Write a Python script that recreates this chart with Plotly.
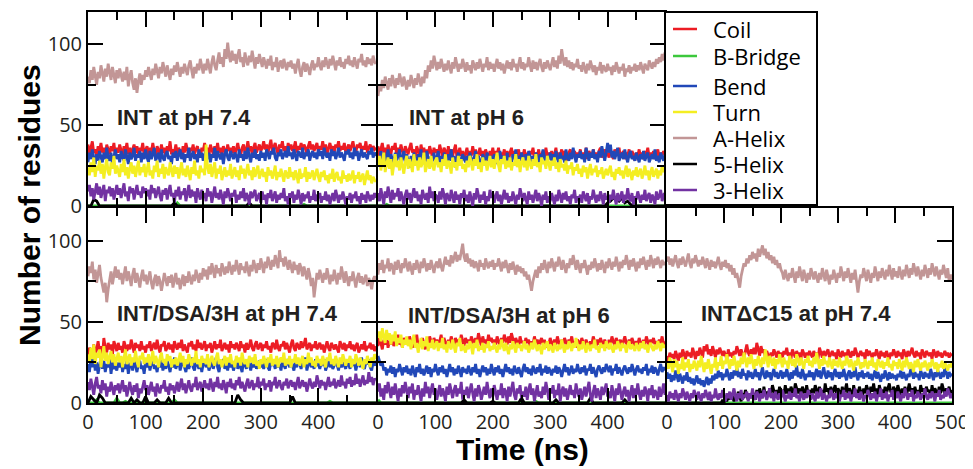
import plotly.graph_objects as go

# ---------------- data ----------------
series_names = ["Coil", "B-Bridge", "Bend", "Turn", "A-Helix", "5-Helix", "3-Helix"]
series_colors = ["#ec1c24", "#3cc83c", "#2148b8", "#f4ee22", "#c29696", "#000000", "#7232a2"]

panel_titles = ["INT at pH 7.4", "INT at pH 6", "INT/DSA/3H at pH 7.4",
                "INT/DSA/3H at pH 6", "INT\u0394C15 at pH 7.4"]

x_tick_vals = [0, 100, 200, 300, 400, 500]
x_tick_text_inner = ["0", "100", "200", "300", "400", ""]
x_tick_text_last = ["0", "100", "200", "300", "400", "500"]
y_tick_vals = [0, 50, 100]
y_tick_text = ["0", "50", "100"]
t_end = 500  # ns; every series is sampled evenly from 0 to t_end

# ---- Panel 1: INT at pH 7.4 ----
p1_coil = [38,32,36,40,33,35,31,37,34,39,33,36,30,38,35,32,37,34,39,31,36,
           33,38,35,31,37,34,39,32,36,30,35,38,33,37,31,36,34,39,32,35,
           37,31,36,33,39,34,30,37,35,32,38,33,36,31,37,34,40,32,35,33,
           38,32,36,34,31,37,33,39,35,31,36,34,38,32,35,37,33,30,36,34,
           39,33,36,31,38,35,32,37,34,39,33,36,31,37,35,32,38,34,36,33,
           37,32,35,39,34,31,36,38,33,35,40,34,37,32,36,39,33,35,38,34,
           36,40,35,38,33,37,41,34,36,39,35,32,38,36,40,34,37,33,39,35,
           38,34,36,40,33,37,35,39,34,38,36,32,37,40,35,38,34,36,39,33,
           37,35,40,34,38,32,36,39,35,37,33,38,36,40,34,37,35,39,33,36,
           38,34,37,40,35,33,38,36,39,34,37,35,40,33,36,38,34,37,35,36]
p1_bbridge = [0,0,0,0,0,0,0,0,0,0,0,0,0,0,0,0,0,0,0,0,0,
              0,0,0,0,0,0,0,0,0,0,2,0,0,0,0,0,0,0,0,0,
              0,0,0,0,0,0,0,0,0,0,0,0,0,0,0,0,0,0,0,0,
              0,0,0,0,0,0,0,0,0,0,0,0,0,0,1,0,0,0,0,0,
              0,0,0,0,0,0,0,0,0,0,0,0,0,0,0,0,0,0,0,0]
p1_bend = [27,33,29,35,30,26,32,28,34,31,27,33,29,36,30,28,33,26,31,35,29,
           32,27,34,30,28,35,31,26,33,29,31,36,28,32,30,34,27,33,29,35,
           30,27,34,29,32,36,28,31,33,27,35,30,28,32,34,29,31,26,33,30,
           34,28,31,35,29,33,27,32,30,36,28,31,34,29,32,27,35,30,33,28,
           31,35,29,33,27,32,30,36,28,34,31,29,33,26,32,35,30,28,34,31,
           29,33,31,27,35,30,32,28,34,29,36,31,27,33,30,35,29,32,28,34,
           30,33,28,35,31,29,34,32,36,30,28,33,31,35,29,32,34,30,37,31,
           33,29,35,31,28,34,32,30,36,29,33,31,35,28,32,34,30,33,29,35,
           31,34,29,36,32,30,33,28,35,31,34,29,32,36,30,33,31,28,34,32,
           35,30,33,29,36,31,34,28,32,35,30,33,31,29,34,32,36,30,33,31]
p1_turn = [24,19,27,21,30,18,25,22,28,20,26,17,24,29,21,19,27,23,31,20,25,
           22,18,26,21,29,19,24,17,23,27,20,25,18,22,28,19,24,21,26,18,
           23,27,19,22,17,25,21,28,18,23,20,26,17,24,21,19,27,22,18,25,
           20,24,17,22,27,19,23,18,25,21,16,24,20,28,19,22,17,25,21,23,
           19,38,24,20,26,18,22,27,17,23,20,25,16,21,24,18,22,19,26,17,
           21,24,18,22,16,25,20,23,17,21,26,19,22,16,24,18,21,25,17,20,
           23,18,21,15,24,19,22,17,20,25,16,21,18,23,19,15,22,20,17,24,
           18,21,16,22,19,14,23,17,20,18,24,15,21,17,19,22,16,20,23,18,
           15,21,18,22,16,19,14,20,17,23,15,19,21,16,18,14,22,17,19,15,
           20,16,18,22,14,19,17,21,15,18,20,13,17,22,16,19,14,18,16,15]
p1_ahelix = [80,76,84,78,86,81,75,83,79,87,82,77,85,80,88,83,78,86,81,76,84,
             79,85,81,77,83,78,86,74,80,84,76,72,79,70,77,82,75,81,78,84,
             80,86,82,78,85,81,88,83,79,86,82,89,84,80,87,83,78,85,81,87,
             83,89,84,80,86,82,88,85,81,87,90,84,79,86,82,88,84,91,85,82,
             88,84,91,86,82,89,93,87,84,90,95,88,92,86,97,91,101,93,89,96,
             90,94,88,93,97,89,92,86,95,90,87,93,89,96,91,85,92,88,94,90,
             86,92,88,85,91,87,93,84,89,86,92,83,88,90,85,91,87,84,89,86,
             90,85,88,82,87,91,84,80,86,89,83,88,85,81,87,90,84,88,86,92,
             87,84,90,86,92,88,85,91,87,93,89,84,90,87,92,86,89,85,91,88,
             93,87,90,86,92,88,85,91,89,94,87,90,86,92,88,91,87,93,89,88]
p1_h5 = [0,0,4,3,0,0,0,0,0,0,0,0,0,0,0,0,0,0,0,0,0,
         0,0,0,0,0,0,0,0,0,2,0,0,0,0,0,0,0,0,0,0,
         0,0,0,0,0,0,0,0,0,0,0,0,0,0,0,2,0,0,0,0,
         0,0,0,0,0,0,0,0,0,0,0,0,0,0,0,0,0,0,0,0,
         0,0,0,0,0,0,0,0,0,0,0,0,0,0,0,0,0,0,0,0]
p1_h3 = [9,13,6,11,4,10,14,7,12,5,9,13,3,10,8,12,6,11,4,9,13,
         7,11,5,10,14,6,9,3,12,8,11,4,10,13,7,9,5,12,8,11,
         6,10,4,13,8,11,5,9,12,6,3,10,7,11,4,9,13,6,8,2,
         10,6,12,4,9,7,11,3,8,13,5,10,6,9,2,11,7,4,10,6,
         8,3,11,6,9,2,7,12,5,8,4,10,6,1,9,5,11,7,3,8,
         6,10,2,7,4,9,5,11,3,8,6,1,9,5,7,10,3,6,8,2,
         9,4,7,1,8,5,10,3,6,9,2,7,4,8,5,11,3,6,1,8,
         5,9,2,7,4,10,6,1,8,3,7,5,9,2,6,4,10,3,7,5,
         8,2,6,4,9,3,7,1,5,8,3,10,6,2,7,4,9,5,1,6,
         4,8,2,7,5,9,3,6,1,8,4,7,2,9,5,3,7,4,8,5]

# ---- Panel 2: INT at pH 6 ----
p2_coil = [37,31,35,39,33,36,30,38,34,32,37,35,39,31,36,33,38,34,30,37,35,
           32,36,39,33,35,30,37,34,31,38,33,36,29,35,32,37,34,30,36,33,
           35,31,38,33,30,36,34,29,37,32,35,31,34,38,30,33,36,31,34,29,
           33,36,30,34,31,37,32,35,29,33,36,31,34,30,35,32,28,34,31,36,
           30,34,32,36,29,33,31,35,30,34,28,33,36,31,34,30,32,35,29,33,
           31,35,30,33,28,34,32,36,30,33,31,35,29,32,34,30,36,31,33,29,
           34,30,32,36,29,33,31,35,30,34,32,28,33,35,30,32,34,29,33,31,
           35,30,33,31,36,29,34,32,30,35,31,33,29,34,36,30,32,35,31,33,
           30,34,32,29,35,31,33,36,30,32,34,29,33,31,35,30,34,32,28,33,
           31,35,30,33,29,34,32,36,30,33,31,34,29,32,35,30,33,31,34,32]
p2_bbridge = [0,0,0,1,0,0,0,0,0,0,0,0,0,0,0,0,0,0,0,0,0,
              0,0,0,0,0,0,0,0,0,0,0,0,0,0,0,0,0,0,0,0,
              0,0,0,0,0,0,0,0,0,0,0,0,0,0,0,0,0,0,0,0,
              0,0,0,0,0,0,0,0,0,0,0,0,0,0,0,0,0,0,0,0,
              0,0,0,0,0,0,0,0,0,0,0,0,0,0,0,0,0,0,0,0]
p2_bend = [31,26,34,28,33,24,30,35,27,32,29,25,33,28,31,35,26,30,34,27,32,
           28,24,31,27,33,29,25,32,28,35,26,30,27,34,29,25,31,28,33,26,
           30,34,27,31,25,33,29,26,32,28,35,27,31,24,30,33,28,26,32,29,
           27,31,25,33,29,26,30,34,27,31,28,24,32,29,26,33,30,27,31,25,
           32,28,26,30,34,27,31,29,25,33,28,30,26,32,29,35,27,31,28,33,
           29,26,32,28,34,30,27,31,25,33,29,27,32,28,35,30,26,31,29,33,
           28,32,27,34,30,26,33,29,31,27,35,30,28,33,29,36,31,27,32,30,
           34,29,32,27,36,31,28,33,30,35,29,32,27,34,30,37,31,28,33,39,
           33,38,30,34,29,32,36,28,31,33,29,35,30,27,32,34,29,31,28,33,
           30,27,32,29,34,28,31,33,27,30,32,29,35,28,31,27,33,30,28,32]
p2_turn = [25,31,22,28,33,21,27,30,23,29,19,26,32,24,28,22,30,25,20,27,31,
           23,29,26,21,32,25,28,22,30,24,27,33,21,26,29,23,31,25,22,28,
           30,24,27,21,29,25,32,23,28,26,20,30,24,27,22,31,25,29,23,26,
           21,28,24,31,26,22,29,25,32,23,27,21,30,25,28,22,26,31,24,29,
           23,27,33,25,21,29,26,31,23,28,24,30,22,27,25,32,24,29,21,27,
           30,24,28,22,31,26,23,29,25,32,24,27,21,30,26,28,23,31,25,22,
           28,25,30,23,27,21,29,24,26,22,28,20,25,23,27,19,24,22,26,20,
           23,18,25,21,24,17,22,26,19,23,21,25,18,22,20,24,17,21,23,19,
           22,25,18,21,16,23,20,24,19,22,17,21,25,18,23,20,16,22,19,24,
           18,21,23,17,20,25,19,22,16,21,24,18,20,23,17,22,19,25,21,23]
p2_ahelix = [68,75,71,78,73,80,76,72,79,74,81,77,73,79,75,82,78,74,80,76,72,
             78,74,81,76,73,79,75,82,77,74,80,76,84,79,87,83,90,85,93,87,
             84,89,85,91,86,83,88,84,90,86,82,89,85,92,87,83,88,85,91,86,
             83,89,84,87,82,90,86,84,89,85,91,87,83,88,86,92,84,89,85,88,
             83,87,91,85,89,84,88,82,87,90,85,89,84,91,86,88,83,87,92,85,
             89,84,88,86,92,87,83,90,85,89,84,88,91,86,83,89,85,90,87,84,
             88,92,86,90,85,93,88,97,91,87,92,86,90,85,89,84,88,86,91,85,
             87,83,89,85,82,88,84,90,86,83,87,81,86,84,89,82,87,85,83,88,
             84,86,81,87,83,89,85,82,86,84,88,80,85,83,87,82,86,84,88,83,
             87,84,89,85,82,88,86,84,90,87,85,89,86,91,88,92,89,94,90,95]
p2_h5 = [0,0,0,0,0,0,0,0,0,0,0,0,0,0,0,0,0,0,0,0,0,
         0,0,0,0,0,0,0,0,0,0,0,0,0,0,0,0,0,0,0,0,
         0,0,0,0,0,0,0,0,0,0,0,0,0,0,0,0,0,0,0,0,
         0,0,0,0,0,0,0,0,0,0,0,0,0,0,0,0,0,0,0,2,
         3,5,4,3,5,2,3,1,0,0,0,0,0,0,0,0,0,0,0,0]
p2_h3 = [8,3,11,6,1,9,5,12,7,2,10,4,8,6,11,3,9,5,1,7,10,
         4,8,2,6,11,5,9,3,7,1,10,6,4,8,2,12,5,9,3,7,
         6,2,9,4,11,7,1,8,5,3,10,6,2,9,4,7,1,8,5,10,
         3,7,2,9,5,0,8,4,11,6,2,7,4,9,1,6,3,10,5,8,
         2,6,9,3,7,1,5,10,4,8,2,6,3,9,5,1,7,4,11,6,
         3,8,5,1,9,4,7,2,6,10,3,8,5,0,7,4,9,2,6,3,
         8,5,1,7,3,10,6,2,8,4,9,3,6,1,7,5,10,2,6,4,
         7,2,9,5,3,8,1,6,4,10,5,2,7,3,9,6,1,8,4,6,
         2,7,4,10,5,1,8,3,6,9,2,7,4,11,5,3,8,1,6,4,
         9,5,2,7,4,10,3,6,8,2,7,5,1,9,4,6,10,3,7,8]

# ---- Panel 3: INT/DSA/3H at pH 7.4 ----
p3_coil = [29,34,31,27,36,30,33,38,32,35,29,40,34,31,37,33,36,30,38,34,32,
           37,33,35,31,38,34,32,36,33,39,35,31,37,34,36,32,38,33,35,31,
           36,34,38,32,35,37,33,39,34,31,36,35,38,32,34,37,33,36,31,38,
           35,33,37,34,39,32,36,34,31,37,35,38,33,36,32,39,34,37,33,35,
           38,32,36,34,37,31,35,38,33,36,34,39,32,35,37,33,36,31,38,34,
           36,33,37,35,32,38,34,36,31,37,33,35,39,34,32,36,38,33,35,37,
           32,36,34,38,33,35,31,37,36,33,39,34,32,36,35,38,33,37,34,31,
           36,39,34,32,37,35,33,38,34,36,40,33,35,37,32,36,34,38,33,35,
           37,33,36,31,35,38,34,32,37,35,33,36,34,31,38,35,33,37,32,36,
           34,38,33,36,32,35,37,31,34,36,33,38,32,35,34,37,33,36,32,35]
p3_bbridge = [0,0,0,2,0,0,0,0,0,0,3,0,0,1,0,0,0,0,0,0,0,
              0,0,0,0,0,0,0,0,0,2,0,0,0,0,0,0,0,0,0,0,
              0,0,0,0,0,0,0,0,0,0,0,0,0,0,0,0,0,0,0,0,
              0,0,0,0,0,0,0,0,0,0,0,0,0,0,0,0,0,0,0,0,
              0,0,0,1,0,0,0,0,0,0,0,0,0,0,0,0,0,0,0,0]
p3_bend = [24,19,27,22,29,20,25,18,23,28,21,26,19,24,22,27,18,25,21,23,20,
           25,22,27,19,24,21,26,18,23,25,20,27,22,19,24,26,21,23,18,25,
           22,26,20,24,28,21,23,19,25,22,27,20,24,21,26,23,19,25,22,28,
           21,24,26,20,23,27,22,19,25,21,24,28,22,20,26,23,21,25,19,24,
           27,22,25,20,23,26,21,24,28,22,19,25,23,27,21,24,20,26,22,25,
           20,23,27,21,25,22,19,26,24,21,27,23,20,25,22,28,21,24,26,22,
           25,21,24,27,22,20,26,23,25,21,28,22,24,20,26,23,21,27,24,22,
           26,23,20,25,22,27,24,21,25,23,28,20,24,26,22,25,21,27,23,24,
           21,25,23,27,20,24,26,22,25,21,23,27,24,20,26,22,25,23,21,26,
           24,21,27,23,25,20,24,26,22,28,23,21,25,24,27,22,20,25,23,26]
p3_turn = [30,25,34,27,36,24,31,28,33,22,29,35,26,31,24,28,32,25,30,23,27,
           31,25,29,22,28,33,24,27,30,23,28,25,32,26,22,29,27,31,24,28,
           25,30,23,27,32,24,29,26,22,28,31,25,27,23,30,26,29,22,27,24,
           28,23,26,31,25,29,22,27,24,30,26,23,28,25,32,24,27,22,29,25,
           27,24,30,22,26,29,25,23,28,31,24,27,22,26,29,23,28,25,30,24,
           26,22,29,25,28,23,31,26,24,27,22,29,25,28,24,30,23,26,21,27,
           24,29,26,22,28,25,30,23,27,24,29,22,26,28,25,31,23,27,24,29,
           22,27,25,30,24,28,23,26,29,22,27,24,31,25,28,23,26,22,29,25,
           27,23,29,25,22,28,26,31,24,27,23,29,25,22,28,24,30,26,23,27,
           25,29,22,27,24,30,26,23,28,25,21,27,24,29,26,22,28,25,30,27]
p3_ahelix = [78,84,80,87,76,82,74,79,85,77,72,68,74,62,70,76,81,73,79,84,77,
             82,76,80,73,78,84,75,81,77,72,79,83,74,80,76,71,78,82,75,79,
             73,77,81,74,70,76,79,72,78,75,69,74,80,76,72,78,74,79,71,76,
             80,73,77,70,75,79,72,78,74,81,76,73,79,75,82,77,74,80,76,83,
             78,82,76,84,79,86,81,77,85,80,83,78,86,82,79,84,80,87,83,79,
             85,81,88,83,79,86,82,84,80,87,83,78,85,81,88,84,80,86,82,89,
             84,80,87,83,90,85,82,88,84,91,86,83,94,87,89,84,90,86,82,88,
             84,80,87,82,85,79,86,83,78,84,80,76,83,79,72,77,65,74,80,76,
             82,78,74,80,76,83,78,73,79,75,82,77,73,80,76,84,78,74,81,77,
             72,78,75,81,76,71,77,80,74,78,73,76,79,72,77,74,70,76,78,75]
p3_h5 = [0,4,2,0,5,3,0,0,0,0,0,0,0,0,0,3,0,2,0,0,4,
         0,0,0,2,0,0,0,3,0,0,0,0,0,0,0,0,0,0,0,0,
         0,0,0,0,0,0,0,0,0,0,0,5,2,0,0,0,0,0,0,0,
         0,0,0,0,0,0,0,0,0,0,4,0,0,0,0,0,0,0,0,0,
         0,0,0,0,0,0,0,0,0,0,0,0,0,0,0,0,0,0,0,0]
p3_h3 = [13,8,15,10,5,12,16,9,11,6,14,8,12,4,10,7,13,9,5,11,8,
         12,6,10,14,7,11,4,9,13,8,5,11,7,12,3,9,6,10,14,8,
         11,5,9,13,7,10,4,12,8,6,11,9,14,7,10,5,12,8,11,6,
         9,13,7,11,15,8,12,6,10,14,9,7,12,10,16,8,11,13,7,10,
         14,9,12,8,15,11,7,13,10,16,9,12,8,14,11,6,13,10,15,9,
         12,8,14,11,16,9,13,10,7,12,15,9,11,14,8,12,10,16,9,13,
         11,15,8,12,10,14,7,13,11,16,9,12,14,10,8,13,11,15,9,12,
         14,10,13,8,12,16,9,11,14,10,13,7,12,15,11,9,13,10,17,12,
         9,14,11,13,8,12,16,10,13,11,15,9,12,14,10,17,11,13,9,15,
         12,16,10,14,11,18,12,15,10,13,17,11,14,12,19,13,16,11,15,14]

# ---- Panel 4: INT/DSA/3H at pH 6 ----
p4_coil = [35,40,37,33,39,36,41,34,38,36,40,35,39,37,42,36,38,34,40,37,39,
           36,41,38,34,39,37,42,35,38,36,40,37,33,39,36,41,38,35,40,37,
           39,35,38,42,36,40,37,34,39,36,41,38,35,40,37,39,36,42,38,35,
           40,37,39,35,41,38,36,40,37,43,38,35,41,37,39,36,42,38,40,37,
           39,36,41,38,35,40,37,42,39,36,41,37,43,39,36,40,38,35,41,37,
           38,35,40,37,39,34,38,36,41,37,39,35,38,40,36,39,34,38,36,40,
           37,35,39,36,41,37,34,39,36,40,38,35,39,37,41,36,38,34,39,37,
           36,40,38,35,39,37,34,38,36,41,37,35,39,36,40,38,35,39,37,34,
           39,36,41,37,35,40,38,36,39,34,38,41,37,35,39,36,40,37,35,38,
           36,40,37,34,39,36,41,38,35,39,37,40,36,38,35,39,37,41,36,38]
p4_bbridge = [2,0,0,0,0,0,0,0,0,0,0,0,0,0,0,0,0,0,0,0,0,
              0,0,0,0,0,0,0,0,0,0,0,0,0,0,0,0,0,0,0,0,
              0,0,0,0,0,0,0,0,0,0,0,0,0,0,1,0,0,0,0,0,
              0,0,0,0,0,0,0,0,0,0,0,0,0,0,0,0,0,0,0,0,
              0,0,0,0,0,0,0,0,0,0,0,0,0,0,0,0,0,0,0,0]
p4_bend = [29,26,23,25,20,22,17,21,19,23,18,22,16,21,19,24,20,17,22,19,23,
           18,21,17,23,20,16,22,19,24,18,21,17,20,23,18,22,16,21,19,24,
           20,17,22,19,23,18,21,16,20,24,19,22,17,21,18,23,20,16,22,19,
           21,18,23,20,17,22,19,24,18,21,16,20,23,19,22,17,21,18,24,20,
           17,22,19,23,18,21,16,20,24,19,22,18,21,17,23,20,18,22,19,16,
           21,24,19,22,18,21,17,23,20,18,22,19,24,17,21,19,23,18,22,20,
           17,21,19,23,18,22,20,16,21,24,19,22,17,20,23,18,21,19,24,20,
           18,22,19,23,17,21,20,24,18,22,19,16,21,23,20,18,22,19,24,21,
           19,23,17,21,20,24,18,22,19,17,21,23,20,18,22,19,24,20,17,21,
           23,19,21,18,22,20,24,17,21,19,23,18,22,20,17,21,24,19,22,20]
p4_turn = [40,44,38,46,41,37,45,39,43,36,42,38,44,35,40,37,42,34,39,36,41,
           35,39,33,38,42,34,37,31,36,40,33,38,35,41,32,37,34,39,33,36,
           38,32,37,34,40,33,36,31,38,35,33,39,34,31,37,35,40,32,36,34,
           31,36,33,38,35,30,37,34,39,32,35,33,37,31,36,34,38,32,35,33,
           37,34,31,36,33,39,35,32,37,34,30,36,33,38,35,31,37,34,36,32,
           35,38,33,36,31,34,37,33,39,35,32,36,34,30,37,33,35,38,32,36,
           34,31,37,35,32,36,33,39,34,31,36,33,38,35,32,37,34,40,35,32,
           36,33,38,34,31,37,35,32,36,34,39,33,35,31,37,34,36,32,38,35,
           33,37,34,31,36,33,38,35,32,37,34,36,31,35,38,33,36,34,32,37,
           35,32,37,34,38,33,36,31,35,37,34,32,36,33,38,35,32,37,34,36]
p4_ahelix = [79,86,82,88,80,85,83,89,81,86,84,79,87,82,88,84,80,86,83,89,85,
             81,87,83,79,86,82,88,84,80,87,83,89,85,81,86,82,88,84,80,85,
             87,83,89,84,81,86,90,85,88,84,91,86,89,93,87,91,88,94,98,90,
             87,92,86,89,84,88,83,87,85,81,88,84,86,82,89,85,83,87,84,88,
             82,86,84,89,85,81,87,83,88,84,80,86,82,87,83,79,85,81,84,80,
             83,78,81,76,79,73,69,75,78,82,77,84,80,86,82,88,84,80,87,83,
             89,85,81,87,84,90,86,82,88,84,80,86,83,89,85,91,86,82,88,84,
             80,86,83,88,84,79,85,82,87,83,89,85,81,86,82,88,84,80,87,83,
             89,85,82,87,84,90,86,81,87,83,88,85,91,86,82,88,84,89,85,81,
             87,83,89,85,90,86,82,88,84,91,87,83,89,85,90,86,83,88,85,87]
p4_h5 = [0,0,0,0,0,0,0,0,0,0,0,0,0,0,0,0,0,0,0,0,0,
         0,0,0,0,0,0,0,0,0,2,0,0,0,0,0,0,0,0,0,1,
         0,0,0,0,0,0,0,0,0,3,0,0,0,0,0,0,0,0,0,0,
         0,2,0,0,0,0,0,0,0,0,0,0,0,3,0,0,0,0,0,0,
         0,0,0,0,0,2,0,0,0,0,0,0,0,0,0,0,0,0,0,0]
p4_h3 = [7,12,4,9,2,11,6,13,8,3,10,5,12,7,1,9,4,11,6,13,8,
         3,10,6,12,2,8,5,11,7,1,9,4,13,6,10,3,8,12,5,9,
         2,7,11,4,9,6,1,10,5,12,7,3,8,11,4,9,6,13,2,8,
         5,10,3,7,12,6,1,9,4,11,8,2,6,10,5,13,7,3,9,4,
         11,6,2,8,5,12,3,9,7,1,10,4,8,13,5,2,9,6,11,3,
         7,4,10,2,8,12,5,9,1,6,11,4,7,3,10,5,13,8,2,9,
         6,11,3,8,5,12,1,7,10,4,9,2,6,11,5,8,3,12,7,4,
         9,2,6,10,4,8,13,5,1,7,11,3,9,6,2,10,5,8,12,4,
         7,3,11,6,1,9,5,12,8,2,7,10,4,8,1,6,11,3,9,5,
         12,6,2,8,4,10,7,1,9,5,11,3,8,6,2,10,4,7,12,5]

# ---- Panel 5: INTdeltaC15 at pH 7.4 ----
p5_coil = [29,26,31,28,30,27,32,29,26,31,28,33,30,27,32,29,31,28,34,30,27,
           32,29,34,31,28,35,32,36,30,33,29,35,31,28,33,30,34,31,29,32,
           30,27,33,29,31,28,32,30,35,31,29,33,30,27,32,36,31,29,33,30,
           34,30,37,32,29,35,31,33,28,32,30,27,31,29,33,30,28,32,29,31,
           28,32,30,34,29,31,27,33,30,28,32,29,31,27,33,30,28,31,29,32,
           30,28,32,29,31,27,34,30,28,32,29,31,33,28,30,32,29,31,27,33,
           30,28,32,29,31,27,33,30,28,32,29,34,31,28,30,32,29,31,27,33,
           29,32,30,28,31,29,33,30,27,32,29,31,28,32,30,27,31,29,33,30,
           28,32,29,31,27,33,30,28,32,29,31,34,30,28,32,29,31,27,33,30,
           28,32,30,29,31,27,33,30,28,32,29,31,28,30,32,29,31,28,30,29]
p5_bbridge = [0,0,0,0,0,0,0,0,0,0,0,0,0,0,0,0,0,0,0,0,0,
              0,0,0,0,0,0,0,0,0,0,0,0,0,0,0,0,0,0,0,0,
              0,0,0,0,0,0,0,0,0,0,0,0,0,0,0,0,0,0,0,0,
              0,0,0,0,0,0,0,0,0,0,0,0,0,0,0,0,0,0,0,0,
              0,0,0,0,0,0,0,0,0,0,0,0,0,0,0,0,0,0,0,0]
p5_bend = [19,15,18,13,17,14,20,16,13,18,15,12,17,14,19,13,16,12,15,11,14,
           17,12,15,11,14,10,13,16,11,15,12,17,14,18,15,20,16,19,14,18,
           16,21,17,14,19,15,20,17,22,16,19,15,21,17,18,14,20,16,19,15,
           17,21,16,19,14,18,22,17,15,20,16,19,14,18,21,16,19,15,17,20,
           15,19,16,21,17,14,19,15,20,17,23,16,19,15,21,17,14,18,16,20,
           16,19,14,18,21,16,20,15,18,22,17,15,20,16,19,14,18,21,16,19,
           15,19,16,21,17,14,18,20,15,19,16,22,17,14,19,16,20,15,18,17,
           19,15,18,14,17,20,15,19,16,13,18,15,20,16,14,19,15,18,16,17,
           14,18,16,20,15,19,17,14,18,16,21,17,15,19,16,18,14,20,17,15,
           19,16,18,15,21,17,14,19,16,20,17,15,19,16,22,18,15,19,17,18]
p5_turn = [25,21,28,23,19,27,22,26,18,24,21,28,20,25,22,27,19,24,21,26,23,
           20,26,22,29,24,19,25,21,27,23,18,24,22,28,20,25,23,29,21,26,
           24,30,25,21,27,23,29,24,20,26,22,28,24,31,26,22,28,24,30,25,
           21,27,23,29,25,22,28,24,33,26,22,29,25,23,28,21,27,24,30,25,
           22,28,24,26,21,29,25,23,27,22,30,26,23,28,24,21,27,25,29,23,
           26,22,28,24,31,25,21,27,23,29,24,26,22,28,25,21,27,23,26,22,
           28,24,21,26,23,29,25,22,27,24,20,26,23,28,24,21,25,22,27,24,
           21,26,23,28,22,25,20,27,24,22,26,21,25,23,28,22,24,20,26,23,
           25,21,27,23,20,26,22,28,24,21,25,23,19,26,22,27,23,20,25,22,
           26,23,20,25,22,27,24,21,25,19,24,22,26,21,25,23,20,24,22,25]
p5_ahelix = [87,90,85,89,84,88,91,86,83,89,85,90,87,84,88,92,86,83,89,86,91,
             87,84,88,85,90,86,83,89,85,82,88,84,87,83,86,90,85,82,87,84,
             88,83,86,81,85,79,83,77,80,74,71,78,82,86,84,89,86,91,88,93,
             89,92,87,95,90,94,97,91,95,89,93,88,91,86,90,85,88,83,86,82,
             80,76,82,78,75,80,77,83,79,74,81,77,84,79,75,82,78,74,80,76,
             83,79,76,81,77,74,80,76,83,78,75,82,77,73,79,76,82,78,74,80,
             77,84,79,75,81,77,83,78,74,80,76,82,73,68,75,79,77,83,79,75,
             82,78,74,80,77,84,79,75,81,77,83,79,76,82,78,85,80,76,83,78,
             81,77,84,79,76,82,78,85,80,77,83,79,86,81,78,84,80,76,82,78,
             85,81,77,83,79,86,82,78,84,80,76,82,79,85,81,77,83,75,79,76]
p5_h5 = [0,0,0,0,0,0,0,0,0,0,0,0,0,0,0,0,0,0,0,0,0,
         0,0,0,0,0,0,0,0,0,0,0,0,0,0,0,0,0,0,2,0,
         3,1,5,2,6,3,1,5,2,7,4,1,6,3,8,4,2,6,3,7,
         5,2,8,4,9,6,3,10,5,7,4,9,6,11,7,4,8,5,10,6,
         8,5,11,6,9,4,10,7,5,12,8,6,9,4,10,7,5,11,6,8,
         4,9,6,11,7,5,10,6,8,4,12,7,9,5,10,6,8,11,5,9,
         7,4,10,6,8,12,5,9,7,4,11,6,8,5,10,7,4,9,6,11,
         8,5,10,7,12,6,9,4,11,7,8,5,10,6,9,12,7,5,10,8,
         6,11,7,4,9,6,10,5,8,12,7,9,5,10,6,8,4,11,7,9,
         5,10,7,8,4,11,6,9,7,5,10,6,12,8,5,9,7,10,6,8]
p5_h3 = [5,1,7,3,6,2,8,4,1,6,3,9,5,2,7,4,1,6,3,8,5,
         2,7,4,1,6,3,8,5,2,7,1,5,3,9,4,2,6,3,8,4,
         1,6,3,7,2,5,9,4,1,6,3,8,2,5,4,7,1,6,3,9,
         4,2,7,5,1,6,3,8,4,2,5,9,3,6,1,7,4,2,6,3,
         8,4,1,5,3,7,2,6,4,9,3,5,1,7,4,2,6,3,8,5,
         2,6,4,1,7,3,5,9,2,6,4,1,5,3,8,4,2,6,3,7,
         1,5,4,8,2,6,3,7,1,5,4,9,3,6,2,7,4,1,5,3,
         8,4,2,6,3,7,1,5,4,9,2,6,3,7,1,5,4,8,2,6,
         3,7,4,1,6,3,9,5,2,6,4,8,1,5,3,7,4,2,6,3,
         9,4,2,6,3,7,5,1,6,4,8,2,5,3,7,4,9,5,3,6]

panels_data = [
    [p1_coil, p1_bbridge, p1_bend, p1_turn, p1_ahelix, p1_h5, p1_h3],
    [p2_coil, p2_bbridge, p2_bend, p2_turn, p2_ahelix, p2_h5, p2_h3],
    [p3_coil, p3_bbridge, p3_bend, p3_turn, p3_ahelix, p3_h5, p3_h3],
    [p4_coil, p4_bbridge, p4_bend, p4_turn, p4_ahelix, p4_h5, p4_h3],
    [p5_coil, p5_bbridge, p5_bend, p5_turn, p5_ahelix, p5_h5, p5_h3],
]


def sample_times(values):
    n = len(values)
    return [t_end * i / (n - 1) for i in range(n)]


# ---------------- layout geometry ----------------
# The page body has an 8px margin, so the figure is shrunk and shifted to land
# where the reference puts things (positions below are window pixels).
OFF = 8
W, H = 973 - OFF, 469 - OFF
L, R, T, B = 88 - OFF, 21, 12 - OFF, 66
PW = W - L - R   # 864
PH = H - T - B   # 391

def px_x(p):
    return (p - OFF - L) / PW

def px_y(p):
    return (H - B - (p - OFF)) / PH

# domains: leave 2px gaps so adjacent frame lines coincide
col_spans = [(88, 376), (378, 665), (667, 952)]
row_spans = [(12, 206), (208, 403)]

panel_pos = [(0, 0), (1, 0), (0, 1), (1, 1), (2, 1)]

fig = go.Figure()

label_font = dict(family="Liberation Sans, Arial, sans-serif", size=22, color="#231f20")
tick_font = dict(family="Open Sans, sans-serif", size=20, color="#231f20")

for k, data in enumerate(panels_data):
    ax = "" if k == 0 else str(k + 1)
    for name, color, vals in zip(series_names, series_colors, data):
        fig.add_trace(go.Scatter(
            x=sample_times(vals), y=vals, mode="lines", name=name,
            line=dict(color=color, width=2.8),
            xaxis="x" + ax, yaxis="y" + ax, showlegend=False,
            hoverinfo="skip"))
    col, row = panel_pos[k]
    xd = [px_x(col_spans[col][0]), px_x(col_spans[col][1])]
    yd = [px_y(row_spans[row][1]), px_y(row_spans[row][0])]
    common = dict(showline=True, linecolor="black", linewidth=2, mirror="ticks",
                  ticks="inside", ticklen=15, tickwidth=2, tickcolor="black",
                  showgrid=False, zeroline=False, tickfont=tick_font, fixedrange=True,
                  automargin=False)
    xaxis = dict(common, domain=xd, range=[0, 500], anchor="y" + ax,
                 tickmode="array", tickvals=x_tick_vals,
                 ticktext=(x_tick_text_last if k == 4 else x_tick_text_inner),
                 showticklabels=(row == 1),
                 minor=dict(ticks="inside", ticklen=8, tickwidth=2, tickcolor="black",
                            tickmode="linear", tick0=0, dtick=50))
    yaxis = dict(common, domain=yd, range=[0, 120], anchor="x" + ax,
                 tickmode="array", tickvals=y_tick_vals, ticktext=y_tick_text,
                 showticklabels=(col == 0),
                 minor=dict(ticks="inside", ticklen=8, tickwidth=2, tickcolor="black",
                            tickmode="linear", tick0=0, dtick=25))
    fig.update_layout({"xaxis" + ax: xaxis, "yaxis" + ax: yaxis})

# panel labels (data coordinates of each panel)
label_pos = [(47, 55), (50, 55), (47, 55), (49, 54), (56, 55)]
annotations = []
for k, (title, (lx, ly)) in enumerate(zip(panel_titles, label_pos)):
    ax = "" if k == 0 else str(k + 1)
    annotations.append(dict(text="<b>" + title + "</b>", x=lx, y=ly,
                            xref="x" + ax, yref="y" + ax, xanchor="left",
                            yanchor="middle", showarrow=False, font=label_font))

# axis titles
title_font = dict(family="Liberation Sans, Arial, sans-serif", size=30, color="black")
annotations.append(dict(text="<b>Number of residues</b>", x=px_x(30), y=px_y(205),
                        xref="paper", yref="paper", textangle=-90, showarrow=False,
                        xanchor="center", yanchor="middle", font=title_font))
annotations.append(dict(text="<b>Time (ns)</b>", x=px_x(522), y=px_y(449),
                        xref="paper", yref="paper", showarrow=False,
                        xanchor="center", yanchor="middle", font=title_font))

# legend box drawn by hand
shapes = [dict(type="rect", xref="paper", yref="paper",
               x0=px_x(665), x1=px_x(817), y0=px_y(205), y1=px_y(12),
               line=dict(color="black", width=2), fillcolor="white", layer="above")]
legend_rows = [29, 56, 86, 112, 138, 164, 190]
legend_font = dict(family="Open Sans, sans-serif", size=22, color="black")
for name, color, ry in zip(series_names, series_colors, legend_rows):
    shapes.append(dict(type="line", xref="paper", yref="paper",
                       x0=px_x(673), x1=px_x(697), y0=px_y(ry), y1=px_y(ry),
                       line=dict(color=color, width=2.5), layer="above"))
    annotations.append(dict(text=name, x=px_x(711), y=px_y(ry), xref="paper",
                            yref="paper", xanchor="left", yanchor="middle",
                            showarrow=False, font=legend_font))

fig.update_layout(width=W, height=H, margin=dict(l=L, r=R, t=T, b=B, autoexpand=False),
                  paper_bgcolor="white", plot_bgcolor="white",
                  annotations=annotations, shapes=shapes, showlegend=False)

fig.write_html("out.html")
